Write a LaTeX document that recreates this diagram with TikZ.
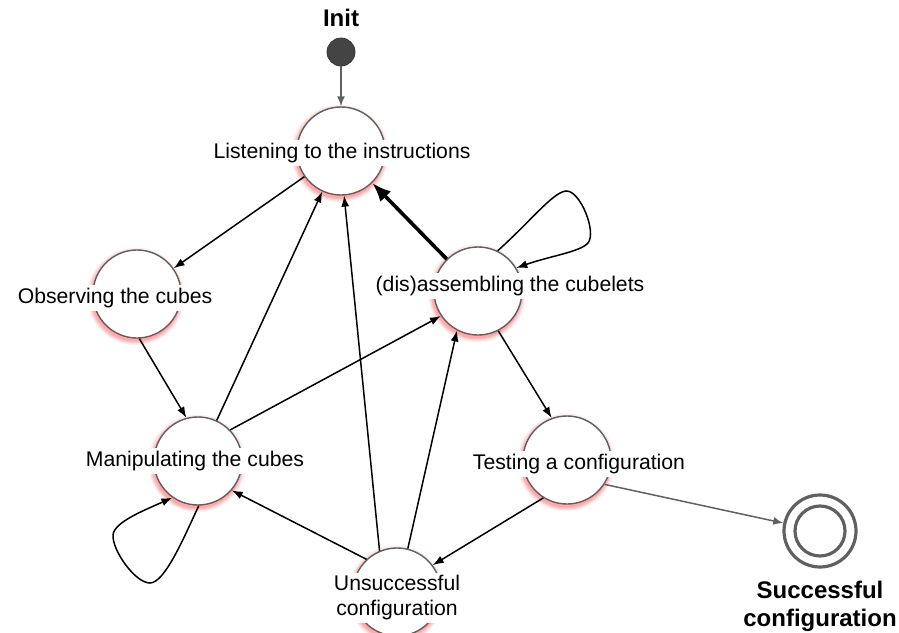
\documentclass[tikz,border=0pt]{standalone}
\usepackage{fontspec}
\setmainfont{Liberation Sans}
\usetikzlibrary{arrows.meta}
\definecolor{rim}{HTML}{606060}
\definecolor{glowred}{HTML}{FF3535}
\definecolor{dotfill}{HTML}{444444}

\begin{document}
\begin{tikzpicture}[x=1pt,y=-1pt,
  state/.style={circle, draw=rim, line width=1.4pt, fill=white, minimum size=88pt, inner sep=0pt},
  lab/.style={fill=white, inner xsep=1pt, inner ysep=3pt, align=center,
    font=\fontsize{21.2}{25}\selectfont},
  blab/.style={inner sep=0pt, align=center, font=\fontsize{24}{28}\selectfont\bfseries},
  edge/.style={draw=black, line width=1.5pt, -{Latex[length=11pt,width=8pt]}},
  bigedge/.style={draw=black, line width=3.6pt, -{Latex[length=19pt,width=15pt]}},
  gedge/.style={draw=rim, line width=1.5pt, -{Latex[length=10pt,width=8pt]}},
  ]
\useasboundingbox (0,0) rectangle (899,632);

% soft red halo under each state
\foreach \cx/\cy in {341/151, 137/294, 478/291, 198/461, 567/460, 397/592}{
  \foreach \d/\o in {5/0.06, 4/0.08, 3/0.10, 2/0.12, 1/0.15}{
    \fill[glowred, opacity=\o] (\cx-1,\cy+2.5) circle [radius=44pt+\d pt];
  }
}

% states
\node[state] (L) at (341,151) {};
\node[state] (O) at (137,294) {};
\node[state] (D) at (478,291) {};
\node[state] (M) at (198,461) {};
\node[state] (T) at (567,460) {};
\node[state] (U) at (397,592) {};

% initial and final markers
\node[circle, fill=dotfill, draw=dotfill!80!black, line width=0.8pt, minimum size=28pt, inner sep=0pt] (I) at (341,52) {};
\node[circle, draw=rim, line width=3.2pt, minimum size=72pt, inner sep=0pt] (S) at (820,531) {};
\node[circle, draw=rim, line width=3.2pt, minimum size=50pt, inner sep=0pt] (Sin) at (820,531) {};

% state labels
\node[lab] (Ltx) at (342,153) {Listening to the instructions};
\node[lab] (Otx) at (115,298) {Observing the cubes};
\node[lab] (Dtx) at (510,286) {(dis)assembling the cubelets};
\node[lab] (Mtx) at (195,461) {Manipulating the cubes};
\node[lab] (Ttx) at (579,464) {Testing a configuration};
\node[lab] (Utx) at (397,598) {Unsuccessful\\configuration};
\node[blab] (Itx) at (341,18) {Init};
\node[blab] (Stx) at (820,606) {Successful\\configuration};

% transitions
\draw[gedge] (I) -- (L);
\draw[edge] (L) -- (O);
\draw[edge] (O.-87) -- (M.105);
\draw[edge] (M) -- (L);
\draw[edge] (M.44) -- (D.214);
\draw[edge] (U.113) -- (L.-86);
\draw[edge] (U.76) -- (D.-118);
\draw[bigedge] (D) -- (L);
\draw[edge] (D.64) .. controls (530,222) and (553,192) .. (566,191)
  .. controls (580,190) and (597,232) .. (588,243)
  .. controls (580,252) and (550,256) .. (D.31);
\draw[edge] (D.-63) -- (T.110);
\draw[edge] (T.-122) -- (U.37);
\draw[edge] (U.133) -- (M.-41);
\draw[edge] (M.-89) .. controls (185,535) and (165,583) .. (150,583)
  .. controls (135,583) and (112,550) .. (113,535)
  .. controls (114,522) and (145,510) .. (M.235);
\draw[gedge] (T.-33) -- (S);
\end{tikzpicture}
\end{document}
